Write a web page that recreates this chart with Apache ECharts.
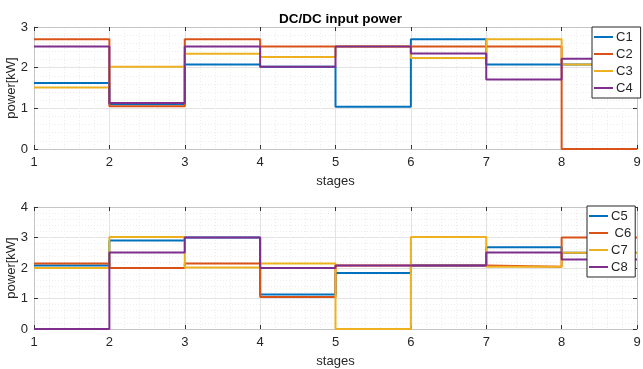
<!DOCTYPE html>
<html>
<head>
<meta charset="utf-8">
<script src="https://cdn.jsdelivr.net/npm/echarts@6/dist/echarts.min.js"></script>
<style>
html,body{margin:0;padding:0;background:#fff;}
#chart{width:643px;height:369px;}
</style>
</head>
<body>
<div id="chart"></div>
<script>
// ---- data ----
const stages = [1, 2, 3, 4, 5, 6, 7, 8, 9];
const titleText = 'DC/DC input power';
const xName = 'stages';
const yName = 'power[kW]';
const topNames = ['C1', 'C2', 'C3', 'C4'];
const bottomNames = ['C5', ' C6', 'C7', 'C8'];
// values per stage 1..8 (held until next stage)
const C1 = [1.62, 1.1, 2.08, 2.02, 1.04, 2.7, 2.08, 2.08];
const C2 = [2.7, 1.05, 2.7, 2.52, 2.52, 2.52, 2.52, 0];
const C3 = [1.51, 2.02, 2.34, 2.26, 2.52, 2.24, 2.7, 2.08];
const C4 = [2.52, 1.13, 2.52, 2.02, 2.52, 2.35, 1.71, 2.22];
const C5 = [2.08, 2.9, 3.0, 1.13, 1.84, 2.08, 2.68, 2.5];
const C6 = [2.15, 2.0, 2.15, 1.05, 2.08, 2.08, 2.04, 3.0];
const C7 = [2.0, 3.02, 2.02, 2.15, 0, 3.02, 2.04, 2.5];
const C8 = [0, 2.51, 3.0, 2.0, 2.08, 2.08, 2.51, 2.28];
const topTicks = [0, 1, 2, 3];
const bottomTicks = [0, 1, 2, 3, 4];

const colors = ['#0072BD', '#D95319', '#EDB120', '#7E2F8E'];
const FONT = '"Liberation Sans", Arial, sans-serif';

function stepData(vals) {
  const d = vals.map((v, i) => [stages[i], v]);
  d.push([stages[stages.length - 1], vals[vals.length - 1]]);
  return d;
}

const chart = echarts.init(document.getElementById('chart'), null, {renderer: 'canvas'});

const grids = [
  {left: 34, right: 6, top: 27, height: 122, containLabel: false, outerBoundsMode: 'none'},
  {left: 34, right: 6, top: 207, height: 122, containLabel: false, outerBoundsMode: 'none'}
];

function xAx(gi, pos, main) {
  return {
    type: 'value', gridIndex: gi, position: pos, min: 1, max: 9, interval: 1,
    name: main ? xName : '', nameLocation: 'middle', nameGap: 26, nameMoveOverlap: false,
    nameTextStyle: {fontFamily: FONT, fontSize: 13, color: '#262626'},
    axisLine: {show: true, onZero: false, lineStyle: {color: '#c4c4c4', width: 1}},
    axisTick: {show: true, inside: true, length: 4, lineStyle: {color: '#333'}},
    axisLabel: {show: main, fontFamily: FONT, fontSize: 13, color: '#262626', margin: 7},
    minorTick: {show: false, splitNumber: 5},
    splitLine: {show: main, lineStyle: {color: '#e3e3e3', width: 1}},
    minorSplitLine: {show: main, lineStyle: {color: '#ececec', type: [1, 2], width: 1}}
  };
}
function yAx(gi, pos, main, max, ticks) {
  return {
    type: 'value', gridIndex: gi, position: pos, min: ticks[0], max: max, interval: 1,
    name: main ? yName : '', nameLocation: 'middle', nameGap: 16, nameMoveOverlap: false,
    nameTextStyle: {fontFamily: FONT, fontSize: 13, color: '#262626'},
    axisLine: {show: true, onZero: false, lineStyle: {color: '#c4c4c4', width: 1}},
    axisTick: {show: true, inside: true, length: 4, lineStyle: {color: '#333'}},
    axisLabel: {show: main, fontFamily: FONT, fontSize: 13, color: '#262626', margin: 6},
    minorTick: {show: false, splitNumber: 5},
    splitLine: {show: main, lineStyle: {color: '#e3e3e3', width: 1}},
    minorSplitLine: {show: main, lineStyle: {color: '#ececec', type: [1, 2], width: 1}}
  };
}

const topSeries = [C1, C2, C3, C4];
const bottomSeries = [C5, C6, C7, C8];
const series = [];
topSeries.forEach((vals, i) => series.push({
  name: topNames[i], type: 'line', step: 'end', xAxisIndex: 0, yAxisIndex: 0,
  data: stepData(vals), showSymbol: false, symbol: 'none',
  lineStyle: {color: colors[i], width: 2}, itemStyle: {color: colors[i]},
  animation: false, z: 2 + i
}));
bottomSeries.forEach((vals, i) => series.push({
  name: bottomNames[i], type: 'line', step: 'end', xAxisIndex: 2, yAxisIndex: 2,
  data: stepData(vals), showSymbol: false, symbol: 'none',
  lineStyle: {color: colors[i], width: 2}, itemStyle: {color: colors[i]},
  animation: false, z: 2 + i
}));

const legendBase = {
  orient: 'vertical', icon: 'rect', itemWidth: 19, itemHeight: 2, itemGap: 3,
  backgroundColor: '#fff', borderColor: '#262626', borderWidth: 1,
  textStyle: {fontFamily: FONT, fontSize: 13, color: '#262626', lineHeight: 14, padding: [0, 0, 0, -2]},
  z: 20
};

chart.setOption({
  animation: false,
  title: {
    text: titleText, left: 274, top: 7,
    textStyle: {fontFamily: FONT, fontSize: 13.5, fontWeight: 'bold', color: '#000'}
  },
  legend: [
    Object.assign({}, legendBase, {data: topNames, left: 592, top: 27, padding: [3, 8, 3, 2]}),
    Object.assign({}, legendBase, {data: bottomNames, left: 587, top: 206, padding: [3, 4, 3, 2]})
  ],
  grid: grids,
  xAxis: [xAx(0, 'bottom', true), xAx(0, 'top', false), xAx(1, 'bottom', true), xAx(1, 'top', false)],
  yAxis: [yAx(0, 'left', true, 3, topTicks), yAx(0, 'right', false, 3, topTicks),
          yAx(1, 'left', true, 4, bottomTicks), yAx(1, 'right', false, 4, bottomTicks)],
  series: series
});
</script>
</body>
</html>
